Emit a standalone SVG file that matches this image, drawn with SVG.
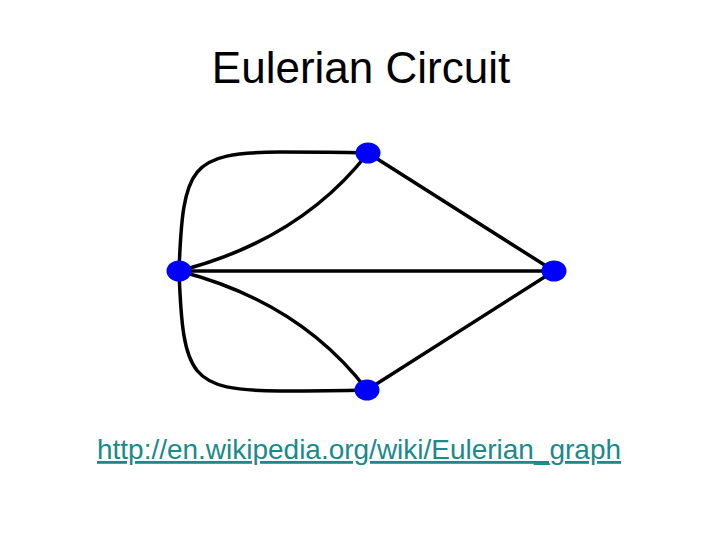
<svg xmlns="http://www.w3.org/2000/svg" width="720" height="540" viewBox="0 0 720 540">
<style>
.edge{fill:none;stroke:#000;stroke-width:3.5;stroke-linecap:round}
.node{fill:#0000ff}
.title{font-family:"Liberation Sans",Arial,sans-serif;font-size:44px;fill:#000}
.link{font-family:"Liberation Sans",Arial,sans-serif;font-size:28px;fill:#1a8a8a;text-decoration:underline}
</style>
<rect width="720" height="540" fill="#fff"/>
<text class="title" x="361" y="83" text-anchor="middle">Eulerian Circuit</text>
<g id="connectors">
<path class="edge" d="M179,271 C183,165 190,153 280,152 Q330,152 368,153"/>
<path class="edge" d="M179,271 Q300,240 368,153"/>
<path class="edge" d="M179,271 L554,271"/>
<path class="edge" d="M368,153 L554,271"/>
<path class="edge" d="M179,271 Q300,302 367,390"/>
<path class="edge" d="M179,271 C183,378 190,390 280,391 Q330,391 367,390"/>
<path class="edge" d="M367,390 L554,271"/>
</g>
<g id="node-top"><ellipse class="node" cx="368" cy="153" rx="12.5" ry="10.5"/></g>
<g id="node-left"><ellipse class="node" cx="179" cy="271" rx="12.5" ry="10.5"/></g>
<g id="node-right"><ellipse class="node" cx="554" cy="271" rx="12.5" ry="10.5"/></g>
<g id="node-bottom"><ellipse class="node" cx="367" cy="390" rx="12.5" ry="10.5"/></g>
<text class="link" x="97" y="459" textLength="524" lengthAdjust="spacingAndGlyphs">http://en.wikipedia.org/wiki/Eulerian_graph</text>
</svg>
